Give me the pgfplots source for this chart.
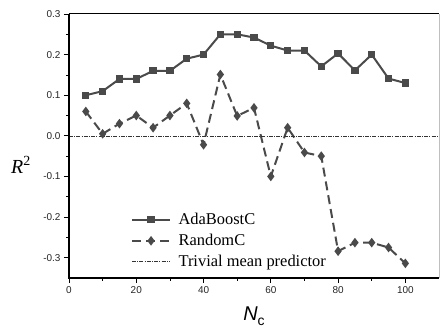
\documentclass[border=0pt]{standalone}
\usepackage{pgfplots}
\pgfplotsset{compat=1.18}
\usepackage{fontspec}
\setmainfont{Liberation Serif}
\setsansfont{Liberation Sans}
\definecolor{lc}{HTML}{4A4A4A}
\begin{document}
\begin{tikzpicture}
\begin{axis}[
  scale only axis,
  width=370bp, height=264bp,
  xmin=0, xmax=110, ymin=-0.35, ymax=0.3,
  xtick={0,20,40,60,80,100},
  ytick={-0.3,-0.2,-0.1,0,0.1,0.2,0.3},
  minor x tick num=1, minor y tick num=1,
  tick align=outside,
  major tick length=5bp, minor tick length=3bp,
  tick style={black, line width=0.8bp},
  xtick pos=bottom, ytick pos=left,
  axis line style={draw=none},
  clip=false,
  /pgf/number format/assume math mode=true,
  ticklabel style={font=\sffamily\fontsize{10}{10}\selectfont, text=black!85},
  yticklabel style={/pgf/number format/fixed, /pgf/number format/precision=1, /pgf/number format/fixed zerofill},
  xlabel={\sffamily\textit{N}\raisebox{-0.25em}{\fontsize{14}{14}\selectfont c}},
  xlabel style={at={(rel axis cs:0.5,0)}, anchor=center, yshift=-38bp, font=\fontsize{20}{20}\selectfont},
  ylabel={\textit{R}\textsuperscript{2}},
  ylabel style={rotate=-90, at={(rel axis cs:0,0.428)}, anchor=center, xshift=-48bp, font=\fontsize{20}{20}\selectfont},
  legend style={at={(axis cs:17.5,-0.182)}, anchor=north west, draw=none, fill=none,
    font=\fontsize{16.5}{16.5}\selectfont, row sep=5bp, column sep=6bp, nodes={inner sep=1.5bp}},
  legend cell align=left,
  legend image code/.code={\draw[mark repeat=2,mark phase=2,#1] plot coordinates {(0bp,0bp) (19bp,0bp) (38bp,0bp)};},
]
\addplot[lc, line width=2bp, mark=square*, mark size=2.6bp, mark options={solid}] coordinates {
(5,0.10) (10,0.11) (15,0.14) (20,0.14) (25,0.16) (30,0.16) (35,0.19) (40,0.20) (45,0.25) (50,0.25)
(55,0.242) (60,0.222) (65,0.21) (70,0.21) (75,0.171) (80,0.203) (85,0.161) (90,0.20) (95,0.141) (100,0.13)};
\addlegendentry{AdaBoostC}
\addplot[lc, line width=2bp, dash pattern=on 9bp off 5bp, mark=diamond*, mark size=3.2bp, mark options={solid}] coordinates {
(5,0.06) (10,0.005) (15,0.03) (20,0.05) (25,0.02) (30,0.05) (35,0.08) (40,-0.022) (45,0.151) (50,0.049)
(55,0.069) (60,-0.10) (65,0.02) (70,-0.041) (75,-0.05) (80,-0.284) (85,-0.263) (90,-0.263) (95,-0.275) (100,-0.314)};
\addlegendentry{RandomC}
\addplot[black!80, line width=0.6bp, dash pattern=on 4bp off 1.2bp on 1bp off 1.2bp] coordinates {(0,0) (110,0)};
\addlegendentry{Trivial mean predictor}
\draw[black, line width=1.2bp] (rel axis cs:0,1) -- (rel axis cs:0,0) -- (rel axis cs:1,0);
\draw[black, line width=1bp] (rel axis cs:0,1) -- (rel axis cs:1,1);
\draw[black!25, line width=0.8bp] (rel axis cs:1,0) -- (rel axis cs:1,1);
\end{axis}
\pgfresetboundingbox
\path (current axis.south west) +(-69bp,-52bp) (current axis.north east) +(1bp,14bp);
\end{tikzpicture}
\end{document}
